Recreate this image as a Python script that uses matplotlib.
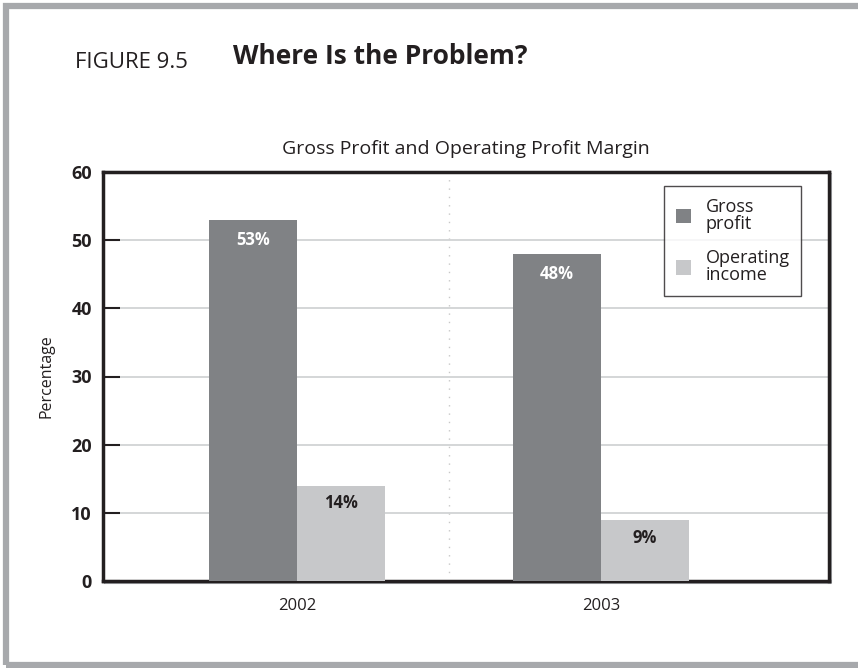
import numpy as np
import matplotlib
matplotlib.use("Agg")
import matplotlib.pyplot as plt
import matplotlib.transforms as mtransforms
from matplotlib.patches import Rectangle

years = ["2002", "2003"]
gross_profit = [53, 48]
operating_income = [14, 9]
series_labels = ["Gross\nprofit", "Operating\nincome"]
yticks = [0, 10, 20, 30, 40, 50, 60]

plt.rcParams['font.family'] = ['Open Sans', 'DejaVu Sans']
text_color = "#231f20"
dark = "#808285"
light = "#c7c8ca"

fig = plt.figure(figsize=(8.58, 6.68), dpi=100)

# outer gray frame (right side runs off the page)
fig.patches.append(Rectangle((5.5 / 858, 3.5 / 668), 1.5, (662 - 3.5) / 668,
                             transform=fig.transFigure, fill=False,
                             edgecolor="#a7a9ac", linewidth=4.5))

fig.text(75 / 858, 1 - 62 / 668, "FIGURE 9.5", fontsize=16, color=text_color,
         va="center", ha="left")
fig.text(233 / 858, 1 - 56 / 668, "Where Is the Problem?", fontsize=19,
         fontweight="bold", color=text_color, va="center", ha="left")

ax = fig.add_axes([103 / 858, 1 - 581 / 668, (829 - 103) / 858, (581 - 172) / 668])

x = np.arange(len(years))
w = 0.29
b1 = ax.bar(x - w / 2, gross_profit, w, color=dark, label=series_labels[0], zorder=3)
b2 = ax.bar(x + w / 2, operating_income, w, color=light, label=series_labels[1], zorder=3)

for rect, v in zip(b1, gross_profit):
    ax.text(rect.get_x() + rect.get_width() / 2, v - 1.6, f"{v}%", ha="center", va="top",
            fontsize=12, fontweight="bold", color="white", zorder=4)
for rect, v in zip(b2, operating_income):
    ax.text(rect.get_x() + rect.get_width() / 2, v - 1.3, f"{v}%", ha="center", va="top",
            fontsize=12, fontweight="bold", color=text_color, zorder=4)

ax.set_xlim(-0.638, 1.75)
ax.set_ylim(0, 60)
ax.set_yticks(yticks)
ax.set_xticks(x)
ax.set_xticklabels(years, fontsize=12, color=text_color)
ax.tick_params(axis="x", length=0, pad=12)
ax.tick_params(axis="y", direction="in", length=12, width=1.5, color=text_color,
               labelsize=13, pad=8)
for lab in ax.get_yticklabels():
    lab.set_fontweight("bold")
    lab.set_color(text_color)

ax.grid(axis="y", color="#d1d3d4", linewidth=1.3, zorder=0)
ax.axvline(0.5, color="#c8c8c8", linestyle=(0, (1, 5)), linewidth=1, zorder=1)

for s in ax.spines.values():
    s.set_linewidth(2.5)
    s.set_color(text_color)

# light shadow just outside bottom and right spines
shadow = mtransforms.offset_copy(ax.transAxes, fig=fig, x=1.8, y=-1.8, units="dots")
ax.plot([0, 1, 1], [0, 0, 1], transform=shadow, color="#a7a9ac", linewidth=1.5,
        clip_on=False, zorder=0)

ax.set_ylabel("Percentage", fontsize=11.5, color=text_color, labelpad=12)
ax.set_title("Gross Profit and Operating Profit Margin", fontsize=14,
             color=text_color, pad=13)

leg = ax.legend(loc="upper right", bbox_to_anchor=(0.962, 0.966), frameon=True,
                fancybox=False, edgecolor=text_color, fontsize=13,
                handlelength=0.85, handleheight=0.85, borderpad=0.65,
                labelspacing=0.9, handletextpad=0.8, borderaxespad=0)
leg.get_frame().set_linewidth(1)
for t in leg.get_texts():
    t.set_color(text_color)
    t.set_linespacing(0.95)

fig.savefig("out.png", dpi=100)
